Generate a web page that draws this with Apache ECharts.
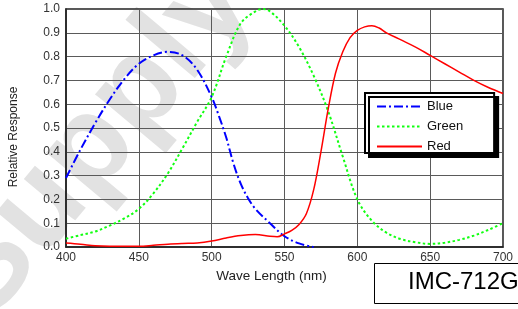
<!DOCTYPE html>
<html><head><meta charset="utf-8">
<script src="https://cdn.jsdelivr.net/npm/echarts@6/dist/echarts.min.js"></script>
<style>html,body{margin:0;padding:0;background:#fff}#c{width:518px;height:309px}</style>
</head><body><div id="c"></div>
<script>
const blueData = [[400,0.29],[410,0.41],[420,0.52],[430,0.62],[440,0.705],[450,0.77],[460,0.805],[470,0.82],[480,0.805],[490,0.745],[500,0.63],[505,0.55],[510,0.46],[515,0.35],[520,0.265],[525,0.205],[530,0.16],[540,0.10],[550,0.045],[560,0.015],[570,0.0]];
const greenData = [[400,0.035],[410,0.05],[420,0.065],[430,0.09],[440,0.12],[450,0.16],[460,0.225],[470,0.31],[480,0.415],[490,0.525],[500,0.63],[510,0.80],[520,0.94],[530,0.99],[535,1.0],[540,0.99],[550,0.93],[560,0.84],[570,0.72],[580,0.57],[590,0.38],[600,0.20],[610,0.11],[620,0.06],[630,0.033],[640,0.02],[650,0.013],[660,0.018],[670,0.03],[680,0.048],[690,0.072],[700,0.10]];
const redData = [[400,0.017],[410,0.012],[420,0.005],[430,0.003],[440,0.003],[450,0.003],[460,0.007],[470,0.012],[480,0.015],[490,0.017],[500,0.025],[510,0.038],[520,0.048],[530,0.052],[540,0.045],[545,0.043],[550,0.055],[555,0.07],[560,0.095],[565,0.14],[570,0.24],[575,0.40],[580,0.58],[585,0.73],[590,0.82],[595,0.88],[600,0.91],[605,0.925],[610,0.93],[615,0.92],[620,0.90],[630,0.87],[640,0.84],[650,0.805],[660,0.77],[670,0.735],[680,0.70],[690,0.67],[700,0.645]];
const seriesNames = ['Blue','Green','Red'];
const xTicks = {min:400, max:700, interval:50};
const yTicks = {min:0, max:1, interval:0.1};
const modelLabel = 'IMC-712G';
const watermark = 'Supply';

const chart = echarts.init(document.getElementById('c'), null, {renderer:'canvas'});
const font = 'Arial, "Liberation Sans", sans-serif';
chart.setOption({
  animation:false,
  backgroundColor:'#fff',
  graphic:[
    {type:'text', z:-1, x:10, y:342, rotation:Math.PI*50/180,
     style:{text:watermark, x:0, y:0, verticalAlign:'bottom', align:'left', fill:'#e2e2e2', font:'bold 125px Arial, "Liberation Sans", sans-serif'}},
    {type:'rect', z:10, shape:{x:374.5, y:263.5, width:150, height:40}, style:{fill:'#fff', stroke:'#000', lineWidth:1}},
    {type:'text', z:11, left:408, top:270, style:{text:modelLabel, fill:'#000', font:'24px Arial, "Liberation Sans", sans-serif'}}
  ],
  grid:{left:63, right:15, top:9, bottom:62, show:true, borderColor:'#222', borderWidth:1.5, backgroundColor:'transparent'},
  legend:{
    orient:'vertical', left:365, top:93,
    data:seriesNames,
    itemWidth:45, itemHeight:12, itemGap:7,
    padding:[7,31,0,11],
    backgroundColor:'#fff', borderColor:'#000', borderWidth:2,
    shadowColor:'rgba(0,0,0,1)', shadowOffsetX:4, shadowOffsetY:4, shadowBlur:0,
    textStyle:{fontFamily:font, fontSize:13, color:'#111'},
    itemStyle:{opacity:0}
  },
  xAxis:{type:'value', min:xTicks.min, max:xTicks.max, interval:xTicks.interval,
    name:'Wave Length (nm)', nameLocation:'middle', nameGap:21,
    nameTextStyle:{fontFamily:font, fontSize:13.5, color:'#222', padding:[0,26,0,0]},
    axisLine:{show:true, lineStyle:{color:'#222', width:1.5}},
    axisTick:{show:false},
    axisLabel:{fontFamily:font, fontSize:12, color:'#333', margin:5},
    splitLine:{show:true, lineStyle:{color:'#5a5a5a', width:1}}},
  yAxis:{type:'value', min:yTicks.min, max:yTicks.max, interval:yTicks.interval,
    name:'Relative Response', nameLocation:'middle', nameGap:46,
    nameTextStyle:{fontFamily:font, fontSize:12, color:'#222', padding:[0,18,0,0]},
    axisLine:{show:true, lineStyle:{color:'#222', width:1.5}},
    axisTick:{show:false},
    axisLabel:{fontFamily:font, fontSize:12, color:'#333', margin:6, formatter:v=>v.toFixed(1)},
    splitLine:{show:true, lineStyle:{color:'#5a5a5a', width:1}}},
  series:[
    {name:'Blue', type:'line', data:blueData, smooth:0.35, symbol:'none', color:'#0000ff',
     lineStyle:{color:'#0000ff', width:2, type:[9,3,2,3]}},
    {name:'Green', type:'line', data:greenData, smooth:0.35, symbol:'none', color:'#00ff00',
     lineStyle:{color:'#11ff11', width:2, type:[2.5,2.5]}},
    {name:'Red', type:'line', data:redData, smooth:0.35, symbol:'none', color:'#ff0000',
     lineStyle:{color:'#ff0000', width:1.5}}
  ]
});
</script></body></html>
